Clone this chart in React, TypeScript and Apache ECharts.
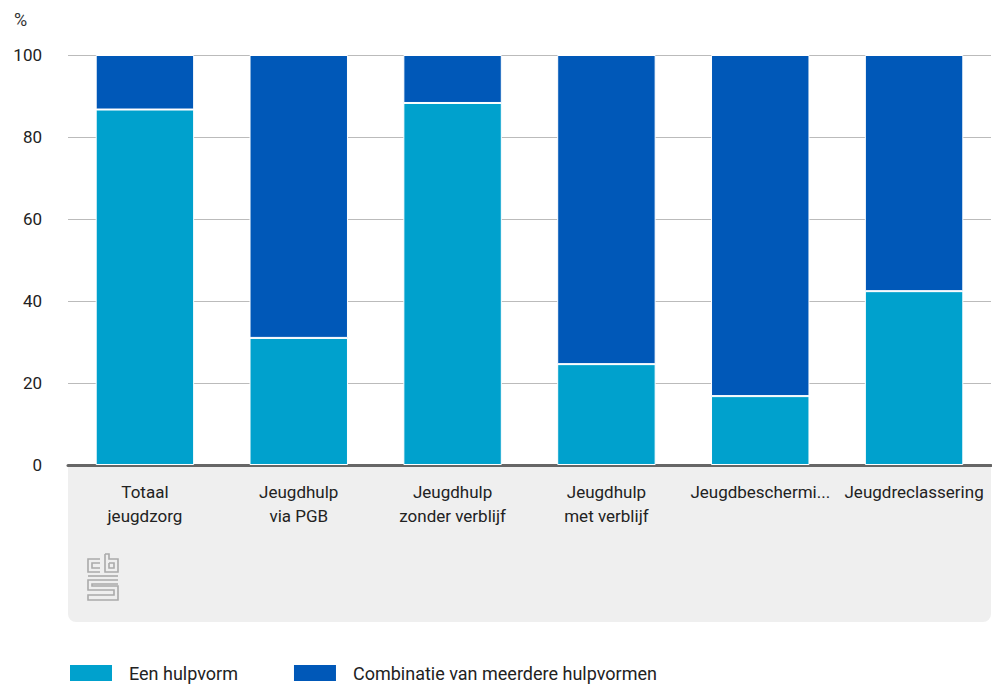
import React, { useEffect, useRef } from "react";
import * as echarts from "echarts";

const categories = [
  "Totaal\njeugdzorg",
  "Jeugdhulp\nvia PGB",
  "Jeugdhulp\nzonder verblijf",
  "Jeugdhulp\nmet verblijf",
  "Jeugdbescherming",
  "Jeugdreclassering",
];
const eenHulpvorm = [86.7, 31.0, 88.3, 24.6, 16.8, 42.4];
const combinatie = [13.3, 69.0, 11.7, 75.4, 83.2, 57.6];
const seriesNames = ["Een hulpvorm", "Combinatie van meerdere hulpvormen"];
const colors = ["#00a1cd", "#0058b8"];

const FONT = "Roboto";

export default function App() {
  const ref = useRef<HTMLDivElement>(null);
  useEffect(() => {
    if (!ref.current) return;
    const chart = echarts.init(ref.current, null, { renderer: "svg" });
    const lc = "#aaa";
    const lw = 1.6;
    const logo = (pts: number[][]) => ({
      type: "polyline",
      shape: { points: pts },
      style: { stroke: lc, lineWidth: lw, fill: null },
    });
    chart.setOption({
      animation: false,
      textStyle: { fontFamily: FONT },
      grid: { left: 68, right: 1, top: 55, bottom: 219, containLabel: false },
      graphic: [
        {
          type: "rect",
          left: 68,
          top: 466,
          shape: { width: 923, height: 156, r: [0, 0, 8, 8] },
          style: { fill: "#efefef" },
          z: -10,
        },
        {
          type: "text",
          left: 14,
          top: 10,
          style: { text: "%", fontSize: 18, fill: "#333", fontFamily: FONT },
        },
        {
          type: "group",
          x: 85,
          y: 553,
          children: [
            logo([[15, 6], [3, 6], [3, 19], [15, 19]]),
            logo([[15, 10], [7, 10], [7, 15], [15, 15]]),
            logo([[20, 1], [20, 19], [33, 19], [33, 6], [24, 6], [24, 1], [20, 1]]),
            logo([[24, 10], [29, 10], [29, 15], [24, 15], [24, 10]]),
            logo([[3, 23], [33, 23]]),
            logo([[33, 27], [3, 27], [3, 37], [29, 37], [29, 42], [3, 42], [3, 47], [33, 47], [33, 33], [7, 33], [7, 31], [33, 31]]),
          ],
        },
      ],
      legend: {
        left: 68,
        top: 663,
        padding: 0,
        itemWidth: 44,
        itemHeight: 18,
        itemGap: 54,
        icon: "rect",
        selectedMode: false,
        textStyle: { fontSize: 18, color: "#222", fontFamily: FONT, padding: [0, 0, 0, 11] },
        data: seriesNames,
      },
      xAxis: {
        type: "category",
        data: categories,
        axisLine: { show: true, lineStyle: { color: "#666", width: 3 } },
        axisTick: { show: false },
        axisLabel: {
          interval: 0,
          color: "#222",
          fontSize: 17,
          lineHeight: 24,
          margin: 15,
          width: 143,
          overflow: "truncate",
          ellipsis: "...",
          fontFamily: FONT,
        },
      },
      yAxis: {
        type: "value",
        min: 0,
        max: 100,
        interval: 20,
        axisLine: { show: false },
        axisTick: { show: false },
        splitLine: { lineStyle: { color: "#bbb", width: 1 } },
        axisLabel: { color: "#222", fontSize: 17, margin: 26, fontFamily: FONT },
      },
      series: [
        {
          name: seriesNames[0],
          type: "bar",
          stack: "total",
          data: eenHulpvorm,
          barWidth: "64%",
          itemStyle: { color: colors[0], borderColor: "#fff", borderWidth: 1 },
        },
        {
          name: seriesNames[1],
          type: "bar",
          stack: "total",
          data: combinatie,
          barWidth: "64%",
          itemStyle: { color: colors[1], borderColor: "#fff", borderWidth: 1 },
        },
      ],
    });
    return () => chart.dispose();
  }, []);
  return <div ref={ref} style={{ width: 992, height: 684, position: "absolute", left: 0, top: 0 }} />;
}
